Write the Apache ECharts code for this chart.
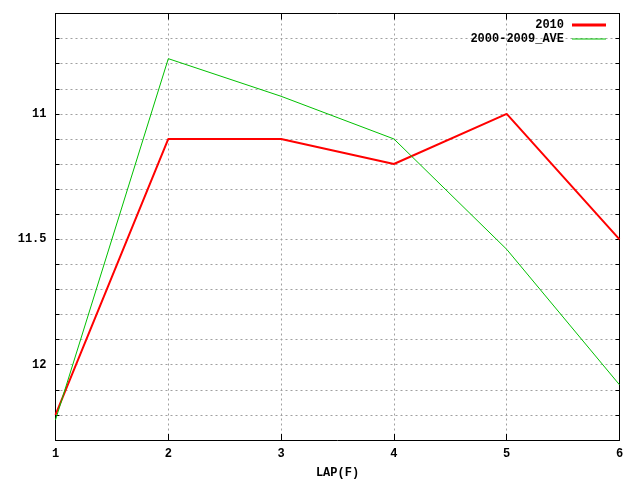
<!DOCTYPE html>
<html><head><meta charset="utf-8">
<script src="https://cdn.jsdelivr.net/npm/echarts@6/dist/echarts.min.js"></script>
<style>html,body{margin:0;padding:0;background:#fff}#c{width:640px;height:480px}</style>
</head><body><div id="c"></div>
<script>
const laps = [1, 2, 3, 4, 5, 6];
const s2010 = [12.2, 11.1, 11.1, 11.2, 11.0, 11.5];
const sAve = [12.22, 10.78, 10.93, 11.1, 11.54, 12.08];
const yTickLabels = [11, 11.5, 12];

const FONT = 'Liberation Mono';
const grid = {left: 55.5, right: 20.5, top: 13.5, bottom: 40, outerBoundsMode: 'none', containLabel: false};
const gridLine = {show: true, lineStyle: {color: '#a0a0a0', type: [2, 3], width: 1}};
const axisLine = {show: true, lineStyle: {color: '#000', width: 1}};
const txt = {fontFamily: FONT, fontWeight: 'bold', fontSize: 12, color: '#000'};
const legTxt = Object.assign({padding: [0, 3, 0, 0]}, txt);

function yLabel(v) {
  for (const t of yTickLabels) if (Math.abs(v - t) < 1e-6) return String(t);
  return '';
}

const chart = echarts.init(document.getElementById('c'), null, {renderer: 'canvas'});
chart.setOption({
  animation: false,
  backgroundColor: '#fff',
  grid: grid,
  legend: [
    {data: [{name: '2010', icon: 'rect'}], right: 29, top: 14, align: 'right', itemWidth: 34, itemHeight: 3, itemGap: 0,
     textStyle: legTxt},
    {data: [{name: '2000-2009_AVE', icon: 'rect'}], right: 29, top: 28, align: 'right', itemWidth: 34, itemHeight: 1, itemGap: 0,
     textStyle: legTxt}
  ],
  xAxis: [
    {type: 'value', position: 'bottom', min: 1, max: 6, interval: 1,
     name: 'LAP(F)', nameLocation: 'middle', nameGap: 27,
     nameTextStyle: txt,
     axisLine: axisLine, axisTick: {show: true, inside: true, length: 6, lineStyle: {color: '#000'}},
     axisLabel: Object.assign({margin: 8}, txt),
     splitLine: gridLine},
    {type: 'value', position: 'top', min: 1, max: 6, interval: 1,
     axisLine: axisLine, axisTick: {show: true, inside: true, length: 6, lineStyle: {color: '#000'}},
     axisLabel: {show: false}, splitLine: {show: false}}
  ],
  yAxis: [
    {type: 'value', position: 'left', inverse: true, min: 10.6, max: 12.3, interval: 0.1,
     axisLine: axisLine, axisTick: {show: true, inside: true, length: 4, lineStyle: {color: '#000'}},
     axisLabel: Object.assign({margin: 9, formatter: yLabel, showMinLabel: true, showMaxLabel: true}, txt),
     splitLine: gridLine},
    {type: 'value', position: 'right', inverse: true, min: 10.6, max: 12.3, interval: 0.1,
     axisLine: axisLine, axisTick: {show: true, inside: true, length: 4, lineStyle: {color: '#000'}},
     axisLabel: {show: false}, splitLine: {show: false}}
  ],
  series: [
    {name: '2010', type: 'line', symbol: 'none', xAxisIndex: 0, yAxisIndex: 0,
     lineStyle: {color: '#ff0000', width: 2}, itemStyle: {color: '#ff0000'},
     data: laps.map((x, i) => [x, s2010[i]])},
    {name: '2000-2009_AVE', type: 'line', symbol: 'none', xAxisIndex: 0, yAxisIndex: 0,
     lineStyle: {color: '#00c000', width: 1}, itemStyle: {color: '#00c000'},
     data: laps.map((x, i) => [x, sAve[i]])}
  ]
});
</script></body></html>
